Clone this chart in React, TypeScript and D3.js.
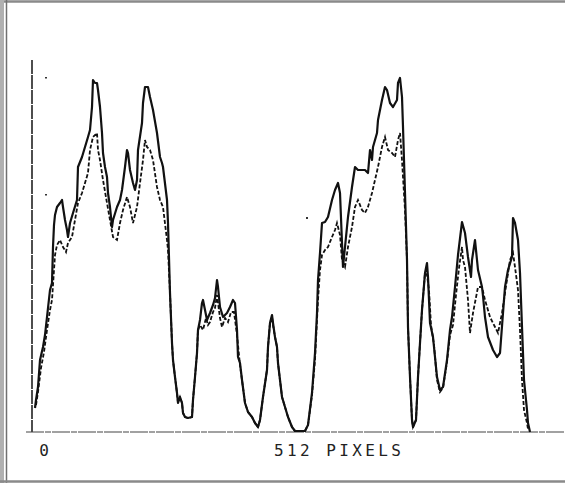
import React from "react";
import * as d3 from "d3";

// Position along the scan line (pixel index 0..512) and intensity (arbitrary units)
const solidProfile: [number, number][] = [
  [1,24],[2,32],[4,45],[6,72],[9,85],[11,97],[13,115],[16,142],[18,149],[19,185],[20,207],[21,217],[23,225],[26,229],[28,232],[29,225],[31,212],[33,202],[34,195],[36,209],[39,219],[43,232],[44,265],[48,275],[51,285],[54,295],[56,302],[58,325],[59,352],[61,349],[63,349],[64,342],[66,325],[68,299],[69,279],[71,265],[73,255],[74,239],[76,225],[78,205],[79,212],[83,225],[86,232],[88,242],[91,265],[93,282],[94,279],[96,262],[99,249],[101,242],[103,252],[104,282],[108,309],[109,329],[111,345],[113,345],[114,345],[116,335],[119,322],[123,299],[126,275],[128,269],[129,265],[133,232],[134,209],[136,139],[138,89],[139,72],[141,55],[143,39],[144,29],[146,35],[148,29],[149,19],[151,15],[154,14],[158,15],[159,32],[161,55],[163,79],[164,102],[166,112],[168,129],[169,132],[171,122],[173,112],[176,119],[179,127],[181,134],[183,152],[184,145],[186,125],[189,115],[193,119],[196,125],[199,132],[201,129],[203,102],[204,75],[206,69],[208,52],[211,29],[214,20],[218,15],[221,9],[224,5],[226,12],[229,35],[233,62],[234,85],[236,109],[238,117],[239,109],[241,95],[243,85],[244,69],[246,52],[248,35],[251,25],[254,15],[258,5],[261,1],[271,1],[274,7],[278,39],[281,79],[283,119],[284,152],[286,179],[288,209],[291,210],[294,215],[298,232],[301,242],[304,249],[306,239],[308,189],[309,165],[311,185],[314,215],[318,245],[321,265],[324,262],[328,262],[331,262],[334,259],[336,282],[338,272],[339,285],[343,299],[344,312],[348,332],[351,345],[353,342],[356,329],[359,325],[363,332],[364,349],[366,354],[368,335],[369,305],[371,239],[373,172],[374,105],[376,55],[378,12],[379,5],[382,12],[384,55],[386,89],[388,122],[391,159],[393,169],[394,155],[396,109],[399,95],[403,55],[406,42],[409,45],[413,72],[416,102],[418,115],[421,145],[424,177],[428,210],[431,199],[434,175],[437,155],[438,172],[441,192],[444,162],[448,145],[449,136],[451,115],[454,95],[459,82],[463,75],[466,79],[469,119],[471,145],[474,162],[478,175],[479,214],[481,209],[484,192],[486,159],[488,105],[490,52],[493,22],[494,9],[496,0]
];

const dashedProfile: [number, number][] = [
  [2,27],[4,40],[7,64],[10,80],[13,102],[16,122],[18,132],[20,162],[21,177],[23,187],[26,192],[29,185],[32,180],[34,189],[38,195],[41,212],[44,229],[48,239],[51,249],[54,259],[56,282],[59,295],[63,299],[64,282],[66,272],[69,252],[73,229],[76,212],[79,195],[83,192],[86,209],[89,222],[93,235],[96,225],[99,209],[103,225],[106,249],[109,272],[111,292],[113,285],[116,282],[119,272],[123,245],[126,232],[129,225],[133,192],[134,182],[136,139],[138,89],[139,72],[141,55],[143,39],[144,29],[146,35],[148,29],[149,19],[151,15],[154,14],[158,15],[159,32],[161,55],[163,79],[164,102],[166,107],[169,102],[172,114],[174,107],[176,110],[179,120],[181,124],[183,137],[186,114],[188,105],[191,114],[194,110],[197,120],[200,120],[203,97],[206,67],[208,52],[211,29],[214,20],[218,15],[221,9],[224,5],[226,12],[229,35],[233,62],[234,85],[236,109],[238,115],[239,107],[241,95],[243,85],[244,69],[246,52],[248,35],[251,25],[254,15],[258,5],[261,1],[271,1],[274,7],[278,37],[281,72],[284,132],[286,162],[288,177],[291,182],[294,185],[298,195],[301,202],[303,209],[306,197],[308,172],[311,165],[314,185],[318,205],[321,225],[324,232],[328,222],[331,219],[334,225],[338,239],[341,252],[344,265],[348,285],[351,295],[354,282],[358,279],[361,275],[364,292],[366,299],[368,272],[369,255],[371,222],[373,172],[374,105],[376,55],[378,12],[379,5],[382,12],[384,55],[386,89],[388,122],[391,159],[393,157],[395,142],[397,107],[400,87],[403,52],[406,40],[409,44],[413,70],[416,97],[419,107],[422,137],[425,164],[428,185],[429,172],[431,165],[434,132],[436,99],[439,119],[444,145],[448,145],[451,132],[456,115],[461,105],[464,99],[468,119],[471,139],[476,172],[479,179],[481,165],[484,142],[486,102],[488,52],[490,22],[493,9],[494,3]
];

const xLabelStart = "0";
const xLabelTitle = "512 PIXELS";

export default function App() {
  const W = 565, H = 486;
  const x = d3.scaleLinear().domain([0, 512]).range([34, 546]);
  const y = d3.scaleLinear().domain([0, 375]).range([432, 57]);
  const line = d3.line<[number, number]>().x(d => x(d[0])).y(d => y(d[1])).curve(d3.curveLinear);
  const font = "'DejaVu Sans Mono', monospace";
  return (
    <svg width={W} height={H} style={{ position: "absolute", left: 0, top: 0, background: "#fff" }}>
      <rect x={0} y={0} width={W} height={H} fill="#fff" />
      {/* scan borders */}
      <line x1={0} y1={1.5} x2={W} y2={1.5} stroke="#8a8a8a" strokeWidth={2.5} />
      <rect x={0} y={0} width={4} height={483} fill="#b0b0b0" />
      <line x1={6.5} y1={0} x2={6.5} y2={483} stroke="#707070" strokeWidth={1.5} />
      <line x1={0} y1={481.5} x2={W} y2={481.5} stroke="#8a8a8a" strokeWidth={2.5} />
      {/* axes */}
      <line x1={32} y1={y(375) + 3} x2={32} y2={y(0)} stroke="#222" strokeWidth={1.6} strokeDasharray="14 1" />
      <line x1={26} y1={y(0)} x2={W} y2={y(0)} stroke="#444" strokeWidth={1.2} strokeDasharray="18 1 6 1" />
      {/* specks */}
      <rect x={45} y={77} width={2} height={1.5} fill="#333" />
      <rect x={45} y={194} width={2} height={1.5} fill="#333" />
      <rect x={306} y={217} width={2} height={2} fill="#333" />
      {/* profiles */}
      <path d={line(dashedProfile) || ""} fill="none" stroke="#111" strokeWidth={1.8} strokeDasharray="4 2" />
      <path d={line(solidProfile) || ""} fill="none" stroke="#111" strokeWidth={2.2} strokeLinejoin="round" />
      {/* labels */}
      <text x={44} y={456} fontFamily={font} fontSize={16} textAnchor="middle" fill="#222">{xLabelStart}</text>
      <text x={274} y={456} fontFamily={font} fontSize={16} letterSpacing={3.4} fill="#222">{xLabelTitle}</text>
    </svg>
  );
}
